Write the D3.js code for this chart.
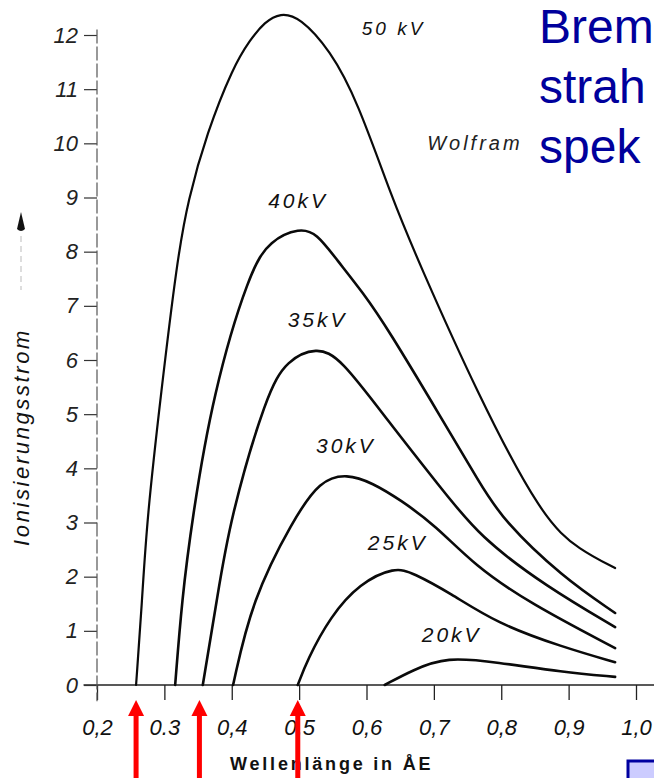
<!DOCTYPE html>
<html>
<head>
<meta charset="utf-8">
<script src="https://cdn.jsdelivr.net/npm/d3@7"></script>
<style>
  body { margin: 0; background: white; }
  svg { display: block; }
  text { font-family: "Liberation Sans", Arial, sans-serif; }
</style>
</head>
<body>
<svg id="graph"></svg>
<script>

// values (wavelength in AE, current in scale units)
var voltages = ["50 kV", "40kV", "35kV", "30kV", "25kV", "20kV"];

var lambda50  = [0.258, 0.267, 0.274, 0.295, 0.319, 0.335, 0.363, 0.402, 0.427, 0.449, 0.472, 0.501, 0.546, 0.586, 0.639, 0.676, 0.764, 0.862, 0.917, 0.969];
var current50 = [0, 1.57, 3.05, 5.39, 7.85, 8.95, 10.19, 11.41, 11.91, 12.24, 12.41, 12.33, 11.72, 10.80, 8.95, 7.85, 5.39, 3.05, 2.49, 2.16];

var lambda40  = [0.316, 0.326, 0.341, 0.372, 0.427, 0.457, 0.501, 0.526, 0.556, 0.595, 0.630, 0.713, 0.768, 0.802, 0.891, 0.969];
var current40 = [0, 1.57, 3.05, 5.39, 7.66, 8.21, 8.44, 8.34, 7.85, 7.24, 6.61, 4.89, 3.73, 3.05, 1.99, 1.33];

var lambda35  = [0.357, 0.378, 0.397, 0.452, 0.482, 0.526, 0.561, 0.631, 0.709, 0.768, 0.868, 0.969];
var current35 = [0, 1.57, 3.05, 5.39, 6.0, 6.24, 6.05, 4.89, 3.66, 2.73, 1.81, 1.07];

var lambda30  = [0.402, 0.430, 0.491, 0.531, 0.571, 0.609, 0.650, 0.702, 0.761, 0.842, 0.969];
var current30 = [0, 1.57, 3.05, 3.78, 3.90, 3.73, 3.42, 2.95, 2.20, 1.51, 0.68];

var lambda25  = [0.498, 0.512, 0.546, 0.590, 0.642, 0.669, 0.724, 0.793, 0.891, 0.969];
var current25 = [0, 0.46, 1.26, 1.88, 2.18, 2.07, 1.70, 1.14, 0.70, 0.42];

var lambda20  = [0.627, 0.669, 0.719, 0.793, 0.891, 0.969];
var current20 = [0, 0.28, 0.52, 0.42, 0.24, 0.15];

// where the curve names sit
var labelLambda  = [0.593, 0.454, 0.483, 0.525, 0.602, 0.682];
var labelCurrent = [12.0, 8.81, 6.61, 4.28, 2.49, 0.79];

var xTicks = [0.2, 0.3, 0.4, 0.5, 0.6, 0.7, 0.8, 0.9, 1.0];
var xTickLabels = ["0,2", "0.3", "0,4", "0,5", "0,6", "0,7", "0,8", "0,9", "1,0"];
var yTicks = [0, 1, 2, 3, 4, 5, 6, 7, 8, 9, 10, 11, 12];

// red arrows under the short-wave limits
var arrowLambda = [0.258, 0.352, 0.498];

var titleLines = ["Brem", "strah", "spek"];


var W = 654, H = 778;

var svg = d3.select("#graph")
  .attr("width", W)
  .attr("height", H);

svg.append("rect")
  .attr("width", W).attr("height", H)
  .attr("fill", "white");

var x = d3.scaleLinear().domain([0.2, 1.0]).range([97, 636]);
var y = d3.scaleLinear().domain([0, 12]).range([685, 35]);

var set_axes = function() {
  /*
    axes, with the lines a little longer than the scale
  */
  var xAxis = svg.append("g")
    .attr("transform", "translate(0," + y(0) + ")")
    .call(d3.axisBottom(x)
      .tickValues(xTicks)
      .tickSize(15)
      .tickPadding(19)
      .tickFormat((d, i) => xTickLabels[i]));
  xAxis.select(".domain").remove();
  xAxis.selectAll("line").attr("stroke", "#222").attr("stroke-width", 1.3);
  xAxis.selectAll("text")
    .attr("fill", "#111")
    .style("font-size", "22px")
    .style("font-style", "italic");

  svg.append("line")
    .attr("x1", x(0.18)).attr("x2", W)
    .attr("y1", y(0)).attr("y2", y(0))
    .attr("stroke", "#222")
    .attr("stroke-width", 1.3);

  var yAxis = svg.append("g")
    .attr("transform", "translate(" + x(0.2) + ",0)")
    .call(d3.axisLeft(y)
      .tickValues(yTicks)
      .tickSize(13)
      .tickPadding(6));
  yAxis.select(".domain").remove();
  yAxis.selectAll("line").attr("stroke", "#333").attr("stroke-width", 1.2);
  yAxis.selectAll("text")
    .attr("fill", "#222")
    .style("font-size", "22px")
    .style("font-style", "italic");

  svg.append("line")
    .attr("x1", x(0.2)).attr("x2", x(0.2))
    .attr("y1", y(12.1)).attr("y2", y(-0.3))
    .attr("stroke", "#555")
    .attr("stroke-width", 1.2)
    .attr("stroke-dasharray", "14,3");
}

var set_curves = function() {
  var series = [
    [lambda50, current50],
    [lambda40, current40],
    [lambda35, current35],
    [lambda30, current30],
    [lambda25, current25],
    [lambda20, current20]
  ];

  // basis smooths the hand-read points like the drawn curves
  var line = d3.line()
    .x(d => x(d[0]))
    .y(d => y(d[1]))
    .curve(d3.curveBasis);

  svg.append("g")
    .selectAll("path")
    .data(series)
    .enter().append("path")
    .attr("fill", "none")
    .attr("stroke", "#0a0a0a")
    .attr("stroke-width", (d, i) => i == 0 ? 2.2 : 2.6)
    .attr("stroke-linecap", "round")
    .attr("d", d => line(d[0].map((l, k) => [l, d[1][k]])));

  svg.append("g")
    .selectAll("text")
    .data(voltages)
    .enter().append("text")
    .attr("x", (d, i) => x(labelLambda[i]))
    .attr("y", (d, i) => y(labelCurrent[i]))
    .attr("fill", "#111")
    .style("font-size", (d, i) => i == 0 ? "19px" : "21px")
    .style("font-style", "italic")
    .style("letter-spacing", "3px")
    .text(d => d);

  svg.append("text")
    .attr("x", x(0.690))
    .attr("y", y(9.88))
    .attr("fill", "#222")
    .style("font-size", "20px")
    .style("font-style", "italic")
    .style("letter-spacing", "3px")
    .text("Wolfram");
}

var set_labels = function() {
  // y title, read from bottom to top, with its small arrow
  svg.append("text")
    .attr("transform", "translate(29,437) rotate(-90)")
    .attr("text-anchor", "middle")
    .attr("fill", "#111")
    .style("font-size", "22px")
    .style("font-style", "italic")
    .style("letter-spacing", "2.6px")
    .text("Ionisierungsstrom");

  svg.append("path")
    .attr("d", "M21,212 L17,229 Q21,233 25,229 Z")
    .attr("fill", "#111");
  svg.append("line")
    .attr("x1", 21).attr("x2", 21)
    .attr("y1", 236).attr("y2", 290)
    .attr("stroke", "#bbb")
    .attr("stroke-dasharray", "6,4");

  svg.append("text")
    .attr("x", 230)
    .attr("y", 770)
    .attr("fill", "#111")
    .style("font-size", "18px")
    .style("font-weight", "bold")
    .style("letter-spacing", "2.8px")
    .text("Wellenlänge in ÅE");
}

var set_overlay = function() {
  // red arrows
  var arrows = svg.append("g")
    .selectAll("g")
    .data(arrowLambda)
    .enter().append("g")
    .attr("transform", d => "translate(" + x(d) + ",0)");
  arrows.append("rect")
    .attr("x", -2.5).attr("width", 5)
    .attr("y", 714).attr("height", H - 714)
    .attr("fill", "#ff0000");
  arrows.append("path")
    .attr("d", "M0,700 L8,716 L-8,716 Z")
    .attr("fill", "#ff0000");

  // blue title at the right edge
  svg.append("g")
    .selectAll("text")
    .data(titleLines)
    .enter().append("text")
    .attr("x", 539)
    .attr("y", (d, i) => 43 + i * 60)
    .attr("fill", "#00009c")
    .style("font-size", "48px")
    .text(d => d);

  svg.append("rect")
    .attr("x", 628).attr("y", 761)
    .attr("width", 40).attr("height", 30)
    .attr("fill", "#ccccff")
    .attr("stroke", "#0000a0")
    .attr("stroke-width", 3);
}

set_axes();
set_curves();
set_labels();
set_overlay();

</script>
</body>
</html>
